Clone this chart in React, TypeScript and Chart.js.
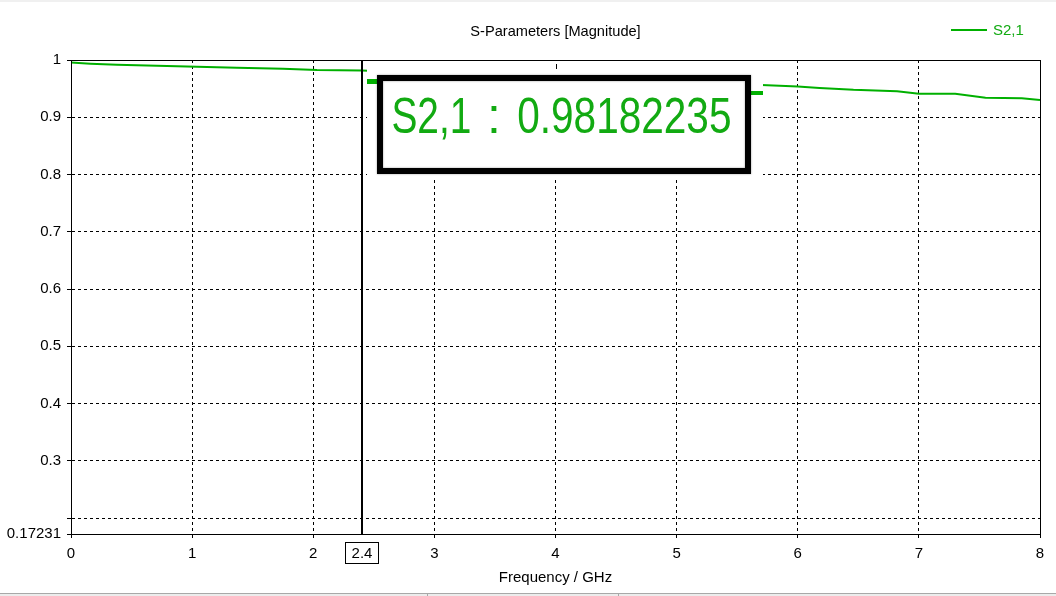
import React, { useEffect, useRef } from "react";
import { Chart, registerables } from "chart.js";

Chart.register(...registerables);

// ---- data ----
const freqGHz = [0, 0.16, 0.38, 0.71, 1.04, 1.37, 1.75, 2.03, 2.4, 3.0, 4.0, 5.0, 5.7, 6.0, 6.18, 6.46, 6.82, 7.0, 7.3, 7.55, 7.85, 8.0];
const s21Mag = [0.9955, 0.9936, 0.9918, 0.9901, 0.9883, 0.9866, 0.9847, 0.9826, 0.9818, 0.977, 0.97, 0.962, 0.9565, 0.9537, 0.9513, 0.948, 0.9455, 0.941, 0.9409, 0.934, 0.933, 0.93];
const yTickValues = [0.17231, 0.2, 0.3, 0.4, 0.5, 0.6, 0.7, 0.8, 0.9, 1];
const yTickLabels = ["0.17231", "", "0.3", "0.4", "0.5", "0.6", "0.7", "0.8", "0.9", "1"];
const xMin = 0;
const xMax = 8;
const markerFreq = 2.4;
const markerFreqLabel = "2.4";
const markerName = "S2,1";
const markerValue = "0.98182235";
const seriesName = "S2,1";
const chartTitle = "S-Parameters [Magnitude]";
const xAxisTitle = "Frequency / GHz";

const FONT = "'Liberation Sans', Arial, sans-serif";
const GREEN = "#00b000";
const TEXT_GREEN = "#12aa12";

function drawFitted(ctx: CanvasRenderingContext2D, text: string, x0: number, x1: number, baseline: number) {
  const m = ctx.measureText(text);
  const ink = m.actualBoundingBoxLeft + m.actualBoundingBoxRight;
  const s = (x1 - x0) / ink;
  ctx.save();
  ctx.translate(x0 + m.actualBoundingBoxLeft * s, baseline);
  ctx.scale(s, 1);
  ctx.fillText(text, 0, 0);
  ctx.restore();
}

const overlayPlugin = {
  id: "cstOverlay",
  afterDatasetsDraw(chart: any) {
    const { ctx, chartArea } = chart;
    const { left, right, top, bottom } = chartArea;
    const xs = chart.scales.x;
    ctx.save();

    // frame
    ctx.strokeStyle = "#000";
    ctx.lineWidth = 1;
    ctx.setLineDash([]);
    ctx.strokeRect(Math.round(left) + 0.5, Math.round(top) + 0.5, Math.round(right - left), Math.round(bottom - top));

    // marker line
    const mx = Math.round(xs.getPixelForValue(markerFreq));
    ctx.lineWidth = 2;
    ctx.beginPath();
    ctx.moveTo(mx, top);
    ctx.lineTo(mx, bottom);
    ctx.stroke();

    // marker label on x axis
    ctx.lineWidth = 1;
    ctx.fillStyle = "#fff";
    ctx.fillRect(mx - 17, bottom + 8, 34, 21);
    ctx.strokeRect(mx - 16.5, bottom + 8.5, 33, 21);
    ctx.fillStyle = "#000";
    ctx.font = `15px ${FONT}`;
    ctx.textAlign = "center";
    ctx.textBaseline = "middle";
    ctx.fillText(markerFreqLabel, mx, bottom + 19.5);

    // value box with its white backdrop
    const bx = mx + 15;
    const by = top + 15;
    const bw = 374;
    const bh = 99;
    ctx.fillStyle = "#fff";
    ctx.fillRect(mx + 5, top + 1, 396, 118);
    // dash of the x=4 grid line peeking out
    ctx.fillStyle = "#000";
    const g4 = Math.round(xs.getPixelForValue(4));
    ctx.fillRect(g4, top + 4, 1, 5);
    // green stubs beside the box
    ctx.fillStyle = GREEN;
    ctx.fillRect(mx + 5, by + 4, bx - mx - 3, 5);
    ctx.fillRect(bx + bw - 3, by + 16, 15, 4);
    ctx.fillStyle = "#fff";
    ctx.fillRect(bx, by, bw, bh);
    ctx.save();
    ctx.shadowColor = "rgba(0,0,0,0.45)";
    ctx.shadowBlur = 2;
    ctx.strokeStyle = "#000";
    ctx.lineWidth = 6;
    ctx.strokeRect(bx + 3, by + 3, bw - 6, bh - 6);
    ctx.restore();
    // text
    ctx.font = `50px ${FONT}`;
    ctx.textAlign = "left";
    ctx.textBaseline = "alphabetic";
    ctx.fillStyle = TEXT_GREEN;
    const base = by + 58;
    drawFitted(ctx, markerName, bx + 16, bx + 93, base);
    drawFitted(ctx, ":", bx + 114, bx + 120, base);
    drawFitted(ctx, markerValue, bx + 141, bx + 353, base);

    // title
    ctx.fillStyle = "#000";
    ctx.font = `14.6px ${FONT}`;
    ctx.textAlign = "center";
    ctx.textBaseline = "middle";
    ctx.fillText(chartTitle, (left + right) / 2, top - 28);

    // x axis title
    ctx.font = `15px ${FONT}`;
    ctx.fillText(xAxisTitle, (left + right) / 2, bottom + 44);

    // legend
    const lx = right - 89;
    const ly = top - 30;
    ctx.strokeStyle = GREEN;
    ctx.lineWidth = 2;
    ctx.beginPath();
    ctx.moveTo(lx, ly);
    ctx.lineTo(lx + 36, ly);
    ctx.stroke();
    ctx.fillStyle = TEXT_GREEN;
    ctx.textAlign = "left";
    ctx.font = `15px ${FONT}`;
    ctx.fillText(chart.data.datasets[0].label, lx + 42, ly + 1);

    ctx.restore();
  },
};

export default function App() {
  const ref = useRef<HTMLCanvasElement>(null);
  useEffect(() => {
    const canvas = ref.current;
    if (!canvas) return;
    const chart = new Chart(canvas, {
      type: "line",
      data: {
        datasets: [
          {
            label: seriesName,
            data: freqGHz.map((f, i) => ({ x: f, y: s21Mag[i] })),
            borderColor: GREEN,
            borderWidth: 2,
            pointRadius: 0,
            tension: 0,
            fill: false,
          },
        ],
      },
      options: {
        animation: false,
        responsive: false,
        devicePixelRatio: 1,
        layout: { padding: { left: 0, top: 60, right: 16, bottom: 0 } },
        plugins: {
          legend: { display: false },
          title: { display: false },
          tooltip: { enabled: false },
        },
        scales: {
          x: {
            type: "linear",
            min: xMin,
            max: xMax,
            afterFit(s: any) {
              s.height = 62;
            },
            ticks: {
              stepSize: 1,
              color: "#000",
              font: { family: FONT, size: 15 },
              padding: 7,
              maxRotation: 0,
              autoSkip: false,
            },
            grid: { color: "#000", lineWidth: 1, tickLength: 4, tickColor: "#000", drawTicks: true },
            border: { display: true, color: "#000", width: 1, dash: [3, 3] },
          },
          y: {
            type: "linear",
            min: yTickValues[0],
            max: yTickValues[yTickValues.length - 1],
            afterFit(s: any) {
              s.width = 71;
            },
            afterBuildTicks(s: any) {
              s.ticks = yTickValues.map((v) => ({ value: v }));
            },
            ticks: {
              callback: (_v: any, i: number) => yTickLabels[i],
              color: "#000",
              font: { family: FONT, size: 15 },
              padding: 6,
              autoSkip: false,
            },
            grid: { color: "#000", lineWidth: 1, tickLength: 4, tickColor: "#000", drawTicks: true },
            border: { display: true, color: "#000", width: 1, dash: [3, 3] },
          },
        },
      },
      plugins: [overlayPlugin],
    } as any);
    return () => chart.destroy();
  }, []);

  return (
    <div style={{ position: "fixed", left: 0, top: 0, width: 1056, height: 596, background: "#fff", overflow: "hidden" }}>
      <canvas ref={ref} width={1056} height={596} style={{ display: "block", width: 1056, height: 596 }} />
      <div style={{ position: "absolute", left: 0, top: 0, width: 1056, height: 2, background: "#f0f0f0" }} />
      <div
        style={{
          position: "absolute",
          left: 0,
          top: 593,
          width: 1056,
          height: 3,
          background: "#ececec",
          borderTop: "1px solid #a8a8a8",
          boxSizing: "border-box",
        }}
      />
      <div style={{ position: "absolute", left: 427, top: 594, width: 1, height: 2, background: "#a8a8a8" }} />
      <div style={{ position: "absolute", left: 618, top: 594, width: 1, height: 2, background: "#a8a8a8" }} />
    </div>
  );
}
